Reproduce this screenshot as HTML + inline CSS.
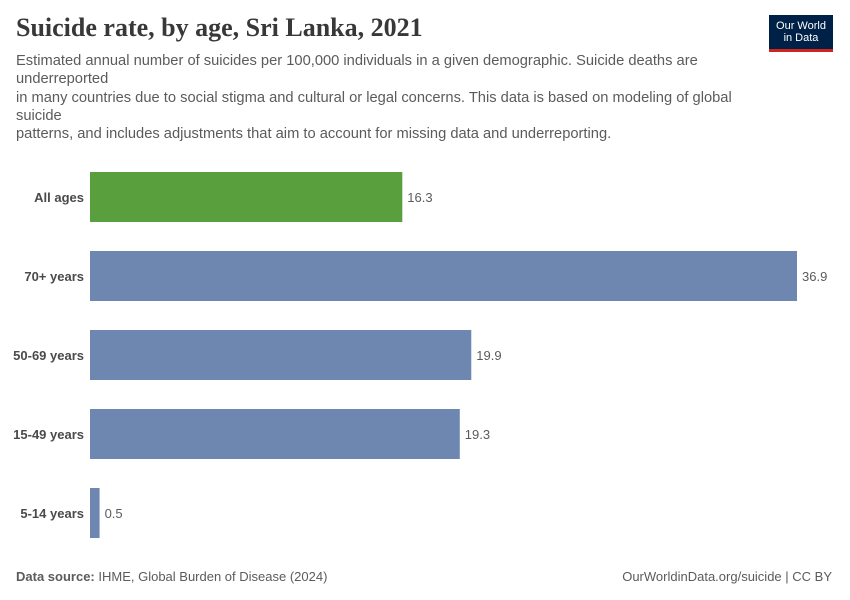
<!DOCTYPE html>
<html><head><meta charset="utf-8"><style>
body{margin:0;width:850px;height:600px;background:#fff;font-family:"Liberation Sans",sans-serif;position:relative;overflow:hidden}
.t{position:absolute;white-space:nowrap}
</style></head><body>
<div class="t" style="left:16px;top:13px;font-family:'Liberation Serif',serif;font-size:26px;font-weight:bold;color:#383838">Suicide rate, by age, Sri Lanka, 2021</div>
<div class="t" style="left:16px;top:52px;font-size:14.7px;line-height:18.3px;color:#5b5b5b">Estimated annual number of suicides per 100,000 individuals in a given demographic. Suicide deaths are<br>underreported<br>in many countries due to social stigma and cultural or legal concerns. This data is based on modeling of global<br>suicide<br>patterns, and includes adjustments that aim to account for missing data and underreporting.</div>
<div style="position:absolute;left:769px;top:15px;width:64px;height:37px;background:#002147;border-bottom:3px solid #ce261e;box-sizing:border-box;color:#fff;font-size:11px;line-height:12px;text-align:center;padding-top:5px">Our World<br>in Data</div>
<svg id="c" width="850" height="600" style="position:absolute;left:0;top:0"></svg>
<div class="t" style="left:16px;top:569px;font-size:13px;color:#5b5b5b"><b>Data source:</b> IHME, Global Burden of Disease (2024)</div>
<div class="t" style="right:18px;top:569px;font-size:13px;color:#5b5b5b">OurWorldinData.org/suicide | CC BY</div>
<script>
const categories=["All ages","70+ years","50-69 years","15-49 years","5-14 years"];
const values=[16.3,36.9,19.9,19.3,0.5];
const colors=["#5a9f3e","#6e87b0","#6e87b0","#6e87b0","#6e87b0"];
const svg=document.getElementById('c');
const NS="http://www.w3.org/2000/svg";
const x0=90,xmax=36.9,xw=707;
const xs=v=>v/xmax*xw;
const ys=i=>172+i*79;
categories.forEach((c,i)=>{
 const r=document.createElementNS(NS,'rect');
 r.setAttribute('x',x0);r.setAttribute('y',ys(i));
 r.setAttribute('width',xs(values[i]));r.setAttribute('height',50);
 r.setAttribute('fill',colors[i]);
 
 
 svg.appendChild(r);
 const l=document.createElementNS(NS,'text');
 l.setAttribute('x',x0-6);l.setAttribute('y',ys(i)+30);
 l.setAttribute('text-anchor','end');l.setAttribute('font-size','13');
 l.setAttribute('font-weight','bold');l.setAttribute('fill','#4a4a4a');
 l.textContent=c;
 
 
 svg.appendChild(l);
 const v=document.createElementNS(NS,'text');
 v.setAttribute('x',x0+xs(values[i])+5);v.setAttribute('y',ys(i)+30);
 v.setAttribute('font-size','13');v.setAttribute('fill','#5b5b5b');
 v.textContent=values[i];
 
 
 svg.appendChild(v);
});
</script>
</body></html>
